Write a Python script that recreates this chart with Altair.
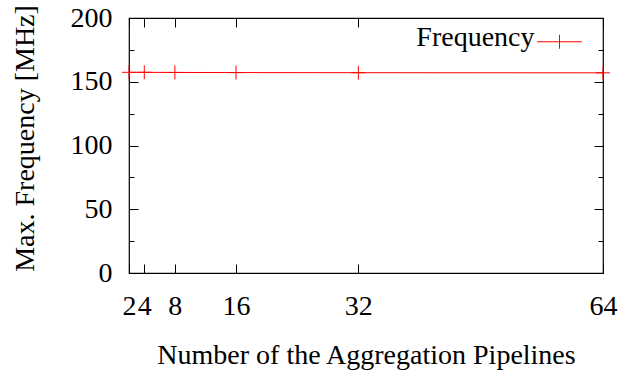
import altair as alt
import pandas as pd

# ---- data ----
pipelines = [2, 4, 8, 16, 32, 64]
freq_mhz = [157.4, 157.4, 157.3, 157.2, 157.1, 157.0]
series = ["Frequency"] * len(pipelines)
x_ticks = [2, 4, 8, 16, 32, 64]
y_major = [0, 50, 100, 150, 200]
y_minor = [25, 75, 125, 175]

df = pd.DataFrame({"n": pipelines, "f": freq_mhz, "s": series})

FONT = "Liberation Serif"
RED = "#ff0000"
FS = 28
MAJ = 9
MIN = 5
PLUS = "M-1,0L1,0M0,-1L0,1"
LEG_PLUS = "M-3.2,0.54L3.2,0.54M0,-0.46L0,1.54"

xs = alt.Scale(domain=[2, 64], nice=False, zero=False)
ys = alt.Scale(domain=[0, 200], nice=False, zero=True)


def ax(**kw):
    d = dict(labelFont=FONT, titleFont=FONT, labelFontSize=FS, titleFontSize=FS,
             titleFontWeight="normal", tickColor="black", tickWidth=1,
             labelColor="black", titleColor="black", grid=False, domain=False,
             labelFlush=False, labelOverlap=False)
    d.update(kw)
    return alt.Axis(**d)


base = alt.Chart(df)

line = base.mark_line(color=RED, strokeWidth=1).encode(
    x=alt.X("n:Q", scale=xs,
            axis=ax(orient="bottom", values=x_ticks, tickSize=MAJ, offset=-MAJ,
                    labelPadding=41, labelBaseline="alphabetic", format="d",
                    title="Number of the Aggregation Pipelines", titleY=99,
                    titleBaseline="alphabetic")),
    y=alt.Y("f:Q", scale=ys,
            axis=ax(orient="left", values=y_major, tickSize=MAJ, offset=-MAJ,
                    labelPadding=17, format="d",
                    title="Max. Frequency [MHz]", titleX=-105, titleY=120,
                    titleBaseline="alphabetic")),
)

pts = base.mark_point(shape=PLUS, size=196, filled=False, strokeWidth=1, opacity=1).encode(
    x=alt.X("n:Q", scale=xs,
            axis=ax(orient="top", values=x_ticks, tickSize=MAJ, offset=-MAJ,
                    labels=False, title=None)),
    y=alt.Y("f:Q", scale=ys,
            axis=ax(orient="right", values=y_major, tickSize=MAJ, offset=-MAJ,
                    labels=False, title=None)),
    color=alt.Color("s:N", scale=alt.Scale(range=[RED]),
                    legend=alt.Legend(orient="none", legendX=416.5, legendY=6,
                                      title=None, symbolType=LEG_PLUS, symbolSize=196,
                                      symbolStrokeWidth=1, symbolStrokeColor=RED,
                                      symbolFillColor="transparent",
                                      labelFont=FONT, labelFontSize=FS,
                                      labelAlign="right",
                                      labelOffset={"expr": "-39"},
                                      labelColor="black", padding=0, labelLimit=400)),
)

min_left = base.mark_point(opacity=0).encode(
    x=alt.X("n:Q", scale=xs, axis=None),
    y=alt.Y("f:Q", scale=ys,
            axis=ax(orient="left", values=y_minor, tickSize=MIN, offset=-MIN,
                    labels=False, title=None)),
)

min_right = base.mark_point(opacity=0).encode(
    x=alt.X("n:Q", scale=xs, axis=None),
    y=alt.Y("f:Q", scale=ys,
            axis=ax(orient="right", values=y_minor, tickSize=MIN, offset=-MIN,
                    labels=False, title=None)),
)

chart = (
    alt.layer(line, pts, min_left, min_right)
    .resolve_axis(x="independent", y="independent")
    .properties(width=474, height=255, autosize="none",
                padding={"left": 129, "top": 18, "right": 16, "bottom": 101},
                background="white")
    .configure_view(stroke="black", strokeWidth=1.2)
)

chart.save("out.html", embed_options={"renderer": "svg", "actions": False})
